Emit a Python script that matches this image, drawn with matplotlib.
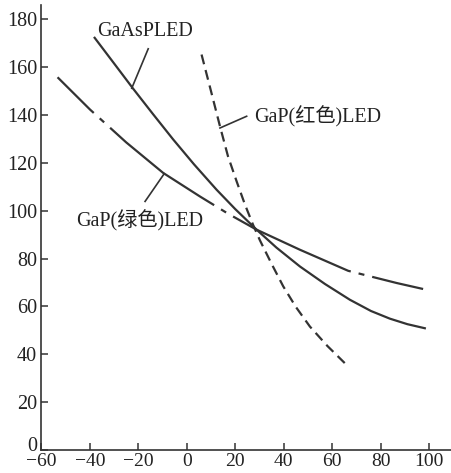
# LED 正向电压温度特性 (扫描图重绘)

import numpy as np
import matplotlib
matplotlib.use('Agg')
import matplotlib.pyplot as plt
import matplotlib.transforms as mtransforms

plt.rcParams['font.family'] = ['Liberation Serif', 'Noto Sans CJK SC']
plt.rcParams['axes.unicode_minus'] = True
plt.rcParams['lines.scale_dashes'] = False

# 曲线数据
gaasp_x = [-38, -30, -22.1, -14, -5.6, 3, 12.3, 20, 28.8, 37, 46.7, 57, 67.3, 76, 83.8, 91, 98.2]
gaasp_y = [172.3, 161.6, 151, 140.5, 129.8, 119.4, 108.8, 100.7, 92.1, 84.6, 76.7, 69.4, 62.8, 58.1, 54.9, 52.6, 50.9]

red_x = [6.1, 10, 13.7, 17, 20.6, 24, 27.4, 30.2, 35, 39.8, 45, 50.8, 58, 66.6]
red_y = [165.3, 150, 135.3, 122.8, 112.2, 102.6, 94.0, 87.6, 77.8, 68.4, 59.8, 51.6, 43.5, 34.9]

green_x = [-53.3, -39.9, -25, -9.7, 5.4, 17, 28.8, 46.7, 66.6, 86.6, 97.5]
green_y = [155.8, 142.3, 128.6, 115.8, 106, 98.8, 92.1, 83.7, 74.9, 69.8, 67.3]

x_ticks = [-60, -40, -20, 0, 20, 40, 60, 80, 100]
y_ticks = [0, 20, 40, 60, 80, 100, 120, 140, 160, 180]

ink = '#333333'

fig = plt.figure(figsize=(4.51, 4.73), dpi=100)
ax = fig.add_axes([0.0916, 0.0486, 0.9084, 0.9408])

ax.plot(gaasp_x, gaasp_y, color=ink, lw=1.6, solid_joinstyle='round')
ax.plot(red_x, red_y, color=ink, lw=1.6, linestyle=(0, (7.2, 4.3)))
ax.plot(green_x, green_y, color=ink, lw=1.6, solid_joinstyle='round',
        linestyle=(57, (93.6, 5.8, 4.3, 5.8)))

# 标注文字及引线
ax.text(-37, 175, 'GaAsPLED', fontsize=14.5, color='#222222', va='center', ha='left')
ax.plot([-15.9, -22.7], [167.7, 151.2], color=ink, lw=1.2)

ax.text(27.7, 139.4, 'GaP(红色)LED', fontsize=14.5, color='#222222', va='center', ha='left')
ax.plot([24.7, 13.7], [139.5, 134.6], color=ink, lw=1.2)

ax.text(-45.7, 95.9, 'GaP(绿色)LED', fontsize=14.5, color='#222222', va='center', ha='left')
ax.plot([-17.2, -9.3], [103.9, 115.5], color=ink, lw=1.2)

ax.set_xlim(-60, 109)
ax.set_ylim(0, 186)
ax.set_xticks(x_ticks)
ax.set_yticks(y_ticks)
ax.tick_params(direction='in', length=5, width=1.1, color=ink,
               labelsize=14.5, labelcolor='#222222')
ax.tick_params(axis='x', pad=2, labelsize=14)
ax.tick_params(axis='y', pad=3)

# y轴 "0" 稍微上移, 避免和 -60 重叠
zero_lbl = ax.get_yticklabels()[0]
zero_lbl.set_transform(zero_lbl.get_transform() +
                       mtransforms.ScaledTranslation(0, 6 / 100, fig.dpi_scale_trans))

for side in ['top', 'right']:
    ax.spines[side].set_visible(False)
for side in ['left', 'bottom']:
    ax.spines[side].set_color(ink)
    ax.spines[side].set_linewidth(1.2)

fig.savefig('out.png', dpi=100)
